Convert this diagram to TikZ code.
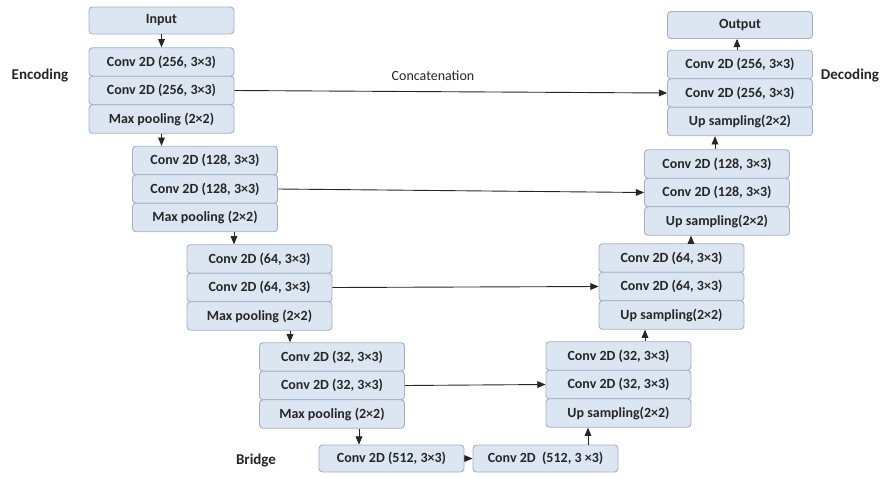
\documentclass[tikz,border=0pt]{standalone}
\usepackage{fontspec}
\setmainfont{Carlito}
\usepackage{tikz}
\usetikzlibrary{positioning, arrows}

\definecolor{boxfill}{HTML}{DCE6F2}
\definecolor{boxline}{HTML}{A3B1C2}

\tikzset{
  layer/.style={draw=boxline, fill=boxfill, rounded corners=3.5pt, minimum width=145pt,
    minimum height=28.5pt, inner sep=0pt, font=\fontsize{14}{15}\selectfont\bfseries},
  side/.style={font=\fontsize{15}{16}\selectfont\bfseries},
}

\begin{document}
\begin{tikzpicture}[->, >=triangle 45, line width=0.9pt, x=1pt, y=-1pt, black!85]
    \useasboundingbox (0,0) rectangle (881,477);
    % encoding
    \node[layer, minimum height=27pt] (in) at (161.5,20.5) {Input};
    \node[layer] (e1a) at (161.5,62) {Conv 2D (256, 3×3)};
    \node[layer] (e1b) at (161.5,90.5) {Conv 2D (256, 3×3)};
    \node[layer] (e1p) at (161.5,119) {Max pooling (2×2)};
    \node[layer] (e2a) at (205,160.5) {Conv 2D (128, 3×3)};
    \node[layer] (e2b) at (205,189) {Conv 2D (128, 3×3)};
    \node[layer] (e2p) at (205,217.5) {Max pooling (2×2)};
    \node[layer] (e3a) at (259.5,259) {Conv 2D (64, 3×3)};
    \node[layer] (e3b) at (259.5,287.5) {Conv 2D (64, 3×3)};
    \node[layer] (e3p) at (259.5,316) {Max pooling (2×2)};
    \node[layer] (e4a) at (332,357) {Conv 2D (32, 3×3)};
    \node[layer] (e4b) at (332,385.5) {Conv 2D (32, 3×3)};
    \node[layer] (e4p) at (332,414) {Max pooling (2×2)};
    % bridge
    \node[layer, minimum height=27pt] (b1) at (391.5,458.5) {Conv 2D (512, 3×3)};
    \node[layer, minimum height=27pt] (b2) at (545.5,458.5) {Conv 2D~ (512, 3 ×3)};
    % decoding
    \node[layer] (d4a) at (618.5,356) {Conv 2D (32, 3×3)};
    \node[layer] (d4b) at (618.5,384.5) {Conv 2D (32, 3×3)};
    \node[layer] (d4p) at (618.5,413) {Up sampling(2×2)};
    \node[layer] (d3a) at (671.5,258) {Conv 2D (64, 3×3)};
    \node[layer] (d3b) at (671.5,286.5) {Conv 2D (64, 3×3)};
    \node[layer] (d3p) at (671.5,315) {Up sampling(2×2)};
    \node[layer] (d2a) at (717,164) {Conv 2D (128, 3×3)};
    \node[layer] (d2b) at (717,192.5) {Conv 2D (128, 3×3)};
    \node[layer] (d2p) at (717,221) {Up sampling(2×2)};
    \node[layer] (d1a) at (740,64.5) {Conv 2D (256, 3×3)};
    \node[layer] (d1b) at (740,93) {Conv 2D (256, 3×3)};
    \node[layer] (d1p) at (740,121.5) {Up sampling(2×2)};
    \node[layer, minimum height=27pt] (out) at (740,25) {Output};
    % labels
    \node[side] (enc) at (40,76) {Encoding};
    \node[side] (dec) at (850,76) {Decoding};
    \node[side] (brg) at (256,461) {Bridge};
    \node[font=\fontsize{14}{15}\selectfont] (cat) at (433,76) {Concatenation};

    % down path
    \draw (in) -- (e1a);
    \draw (e1p.south) -- (e1p.south |- e2a.north);
    \draw ([xshift=29pt]e2p.south) -- ([xshift=29pt]e2p.south |- e3a.north);
    \draw ([xshift=30.5pt]e3p.south) -- ([xshift=30.5pt]e3p.south |- e4a.north);
    \draw ([xshift=27pt]e4p.south) -- ([xshift=27pt]e4p.south |- b1.north);
    \draw (b1) -- (b2);
    % up path
    \draw ([xshift=42.5pt]b2.north) -- ([xshift=42.5pt]b2.north |- d4p.south);
    \draw ([xshift=26.5pt]d4a.north) -- ([xshift=26.5pt]d4a.north |- d3p.south);
    \draw ([xshift=19.5pt]d3a.north) -- ([xshift=19.5pt]d3a.north |- d2p.south);
    \draw ([xshift=-2pt]d2a.north) -- ([xshift=-2pt]d2a.north |- d1p.south);
    \draw ([xshift=-3pt]d1a.north) -- ([xshift=-3pt]d1a.north |- out.south);
    % skip connections
    \draw (e1b.east) -- (d1b.west);
    \draw (e2b.east) -- (d2b.west);
    \draw (e3b.east) -- (d3b.west);
    \draw (e4b.east) -- (d4b.west);
\end{tikzpicture}
\end{document}
